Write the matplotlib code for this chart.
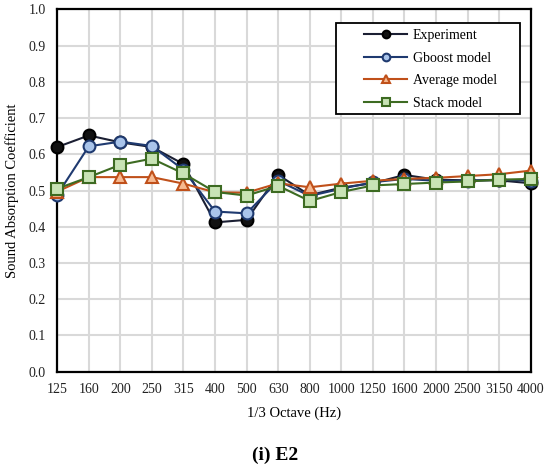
import matplotlib
matplotlib.use("Agg")
import matplotlib.pyplot as plt
import matplotlib.patches as mpatches
import numpy as np

plt.rcParams['font.family'] = ['Liberation Serif', 'DejaVu Serif']

# 1/3 octave bands
freqs = ['125', '160', '200', '250', '315', '400', '500', '630', '800',
         '1000', '1250', '1600', '2000', '2500', '3150', '4000']

# sound absorption coefficients
experiment = [0.62, 0.652, 0.633, 0.62, 0.573, 0.412, 0.419, 0.543, 0.487,
              0.508, 0.52, 0.543, 0.53, 0.528, 0.528, 0.52]
gboost = [0.488, 0.622, 0.635, 0.623, 0.557, 0.442, 0.437, 0.527, 0.485,
          0.505, 0.523, 0.532, 0.527, 0.527, 0.53, 0.527]
average = [0.497, 0.537, 0.537, 0.537, 0.519, 0.495, 0.494, 0.52, 0.509,
           0.519, 0.527, 0.532, 0.535, 0.54, 0.545, 0.555]
stack = [0.505, 0.537, 0.571, 0.588, 0.547, 0.496, 0.486, 0.513, 0.471,
         0.496, 0.514, 0.518, 0.522, 0.525, 0.53, 0.532]

x = np.arange(len(freqs))

fig = plt.figure(figsize=(5.5, 4.71), dpi=100)
ax = fig.add_axes([0.104, 0.211, 0.861, 0.769])

# series styles: (label, data, line colour, marker, face, edge)
series = [
    ('Experiment', experiment, '#1b1f33', 'o', '#111111', '#000000'),
    ('Gboost model', gboost, '#1f3a70', 'o', '#a9c4ea', '#1f3a70'),
    ('Average model', average, '#c0501a', '^', '#f6b990', '#c0501a'),
    ('Stack model', stack, '#3d6b22', 's', '#c8e3b5', '#3d6b22'),
]
for label, vals, lc, mk, fc, ec in series:
    ax.plot(x, vals, color=lc, lw=1.5, marker=mk, ms=8.5 if mk != 's' else 8,
            mfc=fc, mec=ec, mew=1.5, label=label, clip_on=False, zorder=3)

ax.set_xlim(0, len(freqs) - 1)
ax.set_ylim(0, 1.0)
ax.set_xticks(x)
ax.set_xticklabels(freqs)
ax.set_yticks(np.arange(0, 1.01, 0.1))
ax.set_yticklabels(['%.1f' % v for v in np.arange(0, 1.01, 0.1)])
ax.tick_params(length=0, labelsize=10, pad=8, colors='#222222')
ax.grid(True, color='#d9d9d9', lw=1.5)
ax.set_axisbelow(True)
for sp in ax.spines.values():
    sp.set_linewidth(1.6)
    sp.set_color('black')

ax.set_xlabel('1/3 Octave (Hz)', fontsize=10.5, labelpad=8)
ax.set_ylabel('Sound Absorption Coefficient', fontsize=10.5, labelpad=7)

# legend without its own frame; the box is drawn separately (wide padding)
leg = ax.legend(loc='upper left', bbox_to_anchor=(0.648, 0.945), fontsize=10,
                frameon=False, borderpad=0, borderaxespad=0,
                handlelength=3.1, handletextpad=0.4, labelspacing=0.68,
                markerscale=0.65)
box = mpatches.Rectangle((0.589, 0.711), 0.388, 0.251, transform=ax.transAxes,
                         fill=True, facecolor='white', edgecolor='black',
                         lw=1.3, zorder=4)
ax.add_patch(box)
leg.set_zorder(5)

fig.text(0.5, 0.015, '(i) E2', ha='center', va='bottom', fontsize=14,
         fontweight='bold')

fig.savefig('out.png', dpi=100)
